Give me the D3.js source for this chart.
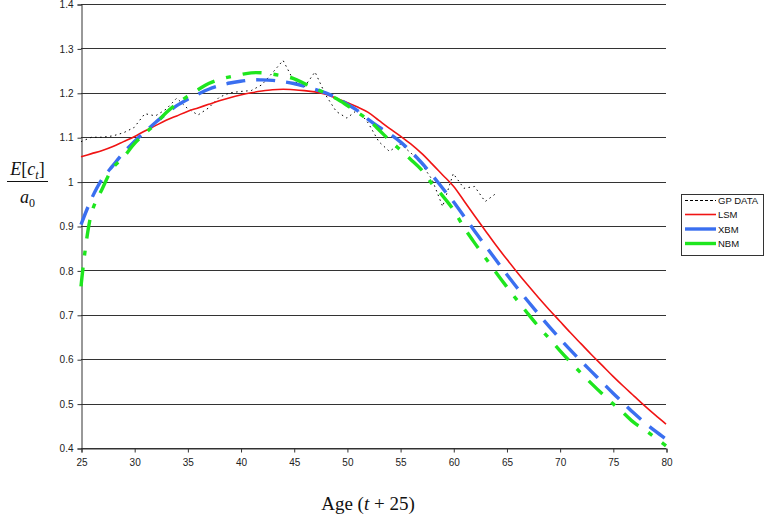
<!DOCTYPE html>
<html><head><meta charset="utf-8">
<script src="https://cdn.jsdelivr.net/npm/d3@7"></script>
<style>body{margin:0;background:#fff}svg{display:block}</style>
</head><body>
<script>
const gpAges = d3.range(25, 65);
const gpData = [1.090,1.100,1.100,1.103,1.110,1.122,1.153,1.148,1.163,1.188,1.165,1.150,1.166,1.190,1.200,1.203,1.205,1.218,1.245,1.273,1.227,1.213,1.247,1.195,1.158,1.143,1.162,1.132,1.090,1.068,1.085,1.065,1.040,1.005,0.944,1.018,0.985,0.989,0.955,0.973];
const modelAges = d3.range(25, 81);
const lsm = [1.056,1.063,1.070,1.079,1.090,1.101,1.114,1.126,1.138,1.148,1.158,1.166,1.174,1.182,1.189,1.195,1.200,1.204,1.207,1.208,1.207,1.205,1.202,1.197,1.188,1.178,1.168,1.156,1.138,1.120,1.103,1.085,1.064,1.040,1.015,0.990,0.957,0.923,0.890,0.857,0.826,0.796,0.767,0.739,0.712,0.686,0.660,0.635,0.610,0.586,0.562,0.539,0.517,0.495,0.474,0.454];
const xbm = [0.903,0.962,1.006,1.036,1.065,1.090,1.112,1.133,1.153,1.171,1.185,1.197,1.208,1.216,1.222,1.226,1.229,1.229,1.228,1.225,1.221,1.215,1.208,1.200,1.189,1.175,1.160,1.140,1.123,1.108,1.090,1.068,1.043,1.015,0.985,0.955,0.922,0.889,0.856,0.824,0.792,0.761,0.731,0.702,0.674,0.647,0.621,0.596,0.572,0.548,0.524,0.501,0.478,0.457,0.438,0.420];
const nbm = [0.764,0.930,0.984,1.031,1.055,1.085,1.108,1.130,1.155,1.175,1.192,1.207,1.221,1.230,1.236,1.241,1.245,1.245,1.242,1.238,1.232,1.221,1.210,1.199,1.187,1.172,1.156,1.139,1.117,1.093,1.072,1.050,1.027,0.995,0.968,0.937,0.897,0.862,0.829,0.796,0.764,0.733,0.703,0.674,0.647,0.620,0.594,0.569,0.545,0.522,0.500,0.479,0.457,0.441,0.423,0.405];
const xTicks = d3.range(25, 81, 5);
const yTicks = d3.range(4, 15).map(d => d / 10);
const seriesNames = ["GP DATA", "LSM", "XBM", "NBM"];

const W = 765, H = 521;
const svg = d3.select("body").append("svg").attr("width", W).attr("height", H);
const x = d3.scaleLinear().domain([25, 80]).range([81, 666]);
const y = d3.scaleLinear().domain([0.4, 1.4]).range([448, 4]);

// gridlines
svg.append("g").selectAll("line").data(yTicks).join("line")
  .attr("x1", x(25)).attr("x2", x(80))
  .attr("y1", d => Math.round(y(d)) + 0.5).attr("y2", d => Math.round(y(d)) + 0.5)
  .attr("stroke", "#333").attr("stroke-width", 1);

// axes
const yAxis = svg.append("g").attr("transform", `translate(${x(25)+0.5},0.5)`)
  .call(d3.axisLeft(y).tickValues(yTicks).tickSize(4).tickPadding(4).tickFormat(d => d === 1 ? "1" : d3.format(".1f")(d)));
const xAxis = svg.append("g").attr("transform", `translate(0.5,${Math.round(y(0.4))+0.5})`)
  .call(d3.axisBottom(x).tickValues(xTicks).tickSize(4).tickPadding(6).tickFormat(d3.format("d")));
[yAxis, xAxis].forEach(g => {
  g.selectAll("path.domain").attr("stroke", "#333");
  g.selectAll(".tick line").attr("stroke", "#333");
  g.selectAll("text").attr("font-family", "'Liberation Sans', Arial, sans-serif").attr("font-size", 10).attr("fill", "#222");
});

const gpPts = gpAges.map((a, i) => [a, gpData[i]]);
const mk = arr => modelAges.map((a, i) => [a, arr[i]]);
const lineLin = d3.line().x(d => x(d[0])).y(d => y(d[1]));
const lineSm = d3.line().x(d => x(d[0])).y(d => y(d[1])).curve(d3.curveCatmullRom.alpha(0.5));

const styles = [
  {stroke: "#000", width: 1, dash: "1.5,3.5"},
  {stroke: "#f01414", width: 1.6, dash: null},
  {stroke: "#3a6ff0", width: 3.4, dash: "19,11"},
  {stroke: "#1ee61e", width: 3.4, dash: "19,12,5,12"}
];
const datasets = [gpPts, mk(lsm), mk(xbm), mk(nbm)];
datasets.forEach((ds, i) => {
  const s = styles[i];
  svg.append("path").attr("d", (i === 0 ? lineLin : lineSm)(ds))
    .attr("fill", "none").attr("stroke", s.stroke).attr("stroke-width", s.width)
    .attr("stroke-dasharray", s.dash);
});

// legend
const lg = svg.append("g");
lg.append("rect").attr("x", 681.5).attr("y", 194.5).attr("width", 82).attr("height", 61)
  .attr("fill", "#fff").attr("stroke", "#333");
const rowsY = [200.5, 214.5, 229, 243.5];
seriesNames.forEach((n, i) => {
  const s = styles[i];
  lg.append("line").attr("x1", 685).attr("x2", 716).attr("y1", rowsY[i]).attr("y2", rowsY[i])
    .attr("stroke", s.stroke).attr("stroke-width", s.width)
    .attr("stroke-dasharray", i === 0 ? "3,2" : null);
  lg.append("text").attr("x", 718).attr("y", rowsY[i] + 3.5).text(n)
    .attr("font-family", "'Liberation Sans', Arial, sans-serif").attr("font-size", 9.5).attr("fill", "#111");
});

// y label: E[c_t] / a_0
const serif = "'Liberation Serif', 'Times New Roman', serif";
const yl = svg.append("g").attr("font-family", serif).attr("font-size", 18).attr("fill", "#111");
const t1 = yl.append("text").attr("x", 27.5).attr("y", 175).attr("text-anchor", "middle");
t1.append("tspan").attr("font-style", "italic").text("E");
t1.append("tspan").text("[");
t1.append("tspan").attr("font-style", "italic").text("c");
t1.append("tspan").attr("font-style", "italic").attr("font-size", 12).attr("dy", 4).text("t");
t1.append("tspan").attr("dy", -4).text("]");
yl.append("line").attr("x1", 7).attr("x2", 48).attr("y1", 181.5).attr("y2", 181.5).attr("stroke", "#111").attr("stroke-width", 1);
const t2 = yl.append("text").attr("x", 27.5).attr("y", 203).attr("text-anchor", "middle");
t2.append("tspan").attr("font-style", "italic").text("a");
t2.append("tspan").attr("font-size", 12).attr("dy", 4).text("0");

// x label
const xl = svg.append("text").attr("x", 368).attr("y", 510).attr("text-anchor", "middle")
  .attr("font-family", serif).attr("font-size", 19).attr("fill", "#111");
xl.append("tspan").text("Age (");
xl.append("tspan").attr("font-style", "italic").text("t");
xl.append("tspan").text(" + 25)");
</script>
</body></html>
